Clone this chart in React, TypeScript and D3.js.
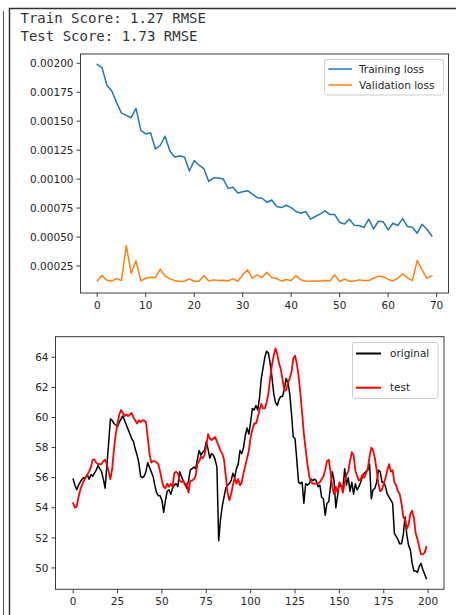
import React from "react";
import * as d3 from "d3";

// Loss history per training epoch
const epochs = d3.range(70);
const trainLoss = [
  0.00199, 0.00196, 0.00181, 0.00176, 0.00166, 0.00157, 0.00155, 0.00153, 0.00161, 0.00142,
  0.00139, 0.0014, 0.00126, 0.00129, 0.00137, 0.00124, 0.00119, 0.0012, 0.00119, 0.00107,
  0.00116, 0.00112, 0.00109, 0.00098, 0.00101, 0.00101, 0.001, 0.00092, 0.00093, 0.00088,
  0.00089, 0.0009, 0.00087, 0.00084, 0.000835, 0.0008, 0.00082, 0.000763, 0.000754, 0.000774,
  0.000754, 0.00072, 0.000705, 0.00072, 0.000654, 0.000677, 0.0007, 0.000726, 0.000694, 0.000694,
  0.000625, 0.000613, 0.000654, 0.000602, 0.000599, 0.000582, 0.000654, 0.00057, 0.000636, 0.000631,
  0.000562, 0.000619, 0.000599, 0.000659, 0.00059, 0.000585, 0.000533, 0.00061, 0.000567, 0.00051,
];
const valLoss = [
  0.000121, 0.000167, 0.000127, 0.000121, 0.000141, 0.000124, 0.000426, 0.000188, 0.000294, 0.000121,
  0.000144, 0.000153, 0.00015, 0.000222, 0.000162, 0.000139, 0.000124, 0.000116, 0.000118, 0.000139,
  0.000118, 0.000118, 0.000167, 0.000121, 0.00013, 0.000124, 0.000127, 0.000121, 0.000139, 0.000118,
  0.000173, 0.000216, 0.000144, 0.000173, 0.00015, 0.000196, 0.00015, 0.000141, 0.000121, 0.000133,
  0.000124, 0.000167, 0.00013, 0.000121, 0.000118, 0.000121, 0.000121, 0.000124, 0.000121, 0.000173,
  0.000116, 0.000136, 0.000118, 0.000121, 0.00013, 0.000124, 0.000124, 0.000144, 0.000162, 0.000156,
  0.000136, 0.000121, 0.000144, 0.000182, 0.000147, 0.000124, 0.000297, 0.000216, 0.000144, 0.000164,
];
const lossXTicks = [0, 10, 20, 30, 40, 50, 60, 70];
const lossYTicks = [0.00025, 0.0005, 0.00075, 0.001, 0.00125, 0.0015, 0.00175, 0.002];

// Price series: actual values and model predictions on the test window
const original = [
  55.9, 55.5, 55.2, 55.5, 55.7, 55.9, 56.0, 56.0, 56.2, 55.9,
  56.2, 56.1, 56.3, 56.5, 56.8, 56.6, 56.4, 55.9, 55.3, 56.8,
  58.3, 59.9, 59.8, 59.6, 59.5, 59.4, 59.7, 59.9, 60.1, 59.8,
  59.5, 59.2, 58.9, 58.6, 58.4, 57.9, 57.5, 57.0, 56.1, 56.0,
  56.1, 56.4, 57.0, 56.7, 56.4, 56.1, 55.5, 55.0, 54.8, 54.8,
  54.5, 53.7, 54.5, 55.1, 55.2, 54.9, 55.3, 55.5, 55.6, 55.4,
  56.4, 56.1, 55.8, 55.6, 55.3, 55.8, 56.5, 56.6, 56.7, 56.6,
  57.2, 57.8, 57.5, 57.7, 57.8, 58.4, 57.9, 57.3, 57.6, 57.5,
  57.2, 56.7, 51.8, 53.2, 54.1, 54.7, 55.3, 55.5, 55.6, 55.8,
  56.3, 56.0, 56.6, 56.9, 57.8, 57.6, 58.0, 58.8, 59.3, 58.9,
  59.7, 60.6, 60.5, 60.8, 60.5, 61.3, 62.6, 63.3, 64.0, 64.4,
  64.3, 63.6, 62.7, 61.6, 61.0, 60.8, 61.2, 61.4, 61.4, 61.9,
  62.6, 62.3, 61.6, 60.3, 58.7, 58.6, 57.2, 55.7, 55.6, 55.7,
  54.3, 55.6, 55.5, 55.6, 55.9, 55.8, 55.9, 55.8, 55.4, 55.5,
  54.7, 54.6, 53.5, 54.3, 54.4, 55.4, 56.4, 55.8, 54.0, 54.8,
  55.6, 55.4, 55.3, 56.6, 55.5, 56.0, 55.1, 55.7, 54.9, 55.6,
  55.2, 55.4, 55.7, 56.1, 56.3, 56.4, 56.5, 56.9, 54.6, 55.2,
  55.3, 55.7, 56.5, 56.4, 55.7, 55.7, 55.4, 54.9, 54.7, 54.5,
  54.3, 52.3, 52.1, 51.9, 51.6, 51.6, 52.2, 53.4, 52.2, 51.5,
  51.2, 50.3, 49.8, 49.8, 49.7, 50.1, 50.3, 49.9, 49.6, 49.3,
];
const test = [
  54.3, 54.0, 54.1, 54.7, 55.2, 55.5, 55.8, 56.0, 56.2, 56.4,
  56.7, 57.2, 57.2, 57.0, 56.9, 56.9, 56.9, 57.1, 57.2, 56.9,
  56.4, 55.9, 56.6, 57.9, 58.9, 59.6, 60.2, 60.5, 60.3, 60.1,
  60.2, 60.1, 60.2, 60.3, 60.0, 59.8, 59.6, 59.8, 59.7, 59.8,
  59.8, 59.7, 58.7, 57.6, 57.0, 57.1, 57.1, 57.0, 56.9, 56.4,
  55.8, 55.4, 55.3, 55.6, 55.4, 55.6, 55.4, 56.3, 56.4, 56.3,
  55.8, 55.7, 55.8, 55.5, 55.6, 55.0, 55.8, 55.8, 55.9, 56.1,
  56.9, 57.1, 57.4, 57.3, 57.5, 58.1, 58.9, 58.6, 58.5, 58.6,
  58.7, 58.4, 58.1, 57.8, 57.6, 57.2, 56.1, 55.0, 54.5, 54.9,
  55.5, 56.0, 55.6, 55.9, 55.5, 55.7, 56.3, 56.8, 57.3, 57.8,
  58.7, 59.2, 59.6, 59.6, 60.0, 60.5, 60.9, 60.6, 60.6, 61.0,
  61.6, 62.6, 63.5, 64.1, 64.6, 64.2, 63.6, 63.2, 62.5, 61.8,
  61.8, 62.3, 62.6, 63.0, 63.9, 64.1, 63.6, 62.8, 61.6, 60.3,
  58.9, 57.9, 56.9, 56.1, 55.7, 55.6, 55.6, 55.6, 55.6, 55.7,
  55.9, 56.1, 56.5, 57.1, 57.2, 56.4, 55.4, 54.9, 55.4, 55.0,
  55.7, 55.5, 55.0, 55.7, 56.2, 56.4, 57.1, 57.7, 57.5, 56.5,
  56.1, 55.8, 55.9, 56.2, 56.0, 56.3, 56.6, 57.4, 58.0, 57.8,
  57.3, 56.5, 55.6, 55.1, 55.2, 55.6, 56.0, 56.5, 56.9, 56.4,
  56.5, 55.7, 55.5, 55.1, 54.9, 54.3, 53.4, 53.2, 52.6, 52.9,
  53.6, 53.8, 53.3, 52.3, 51.9, 51.4, 50.9, 50.9, 51.0, 51.4,
];
const priceXTicks = [0, 25, 50, 75, 100, 125, 150, 175, 200];
const priceYTicks = [50, 52, 54, 56, 58, 60, 62, 64];

const scoreLines = ["Train Score: 1.27 RMSE", "Test Score: 1.73 RMSE"];

const FONT = "'DejaVu Sans', sans-serif";
const TICK_COLOR = "#262626";
const SPINE = "#3a3a3a";

type Series = { name: string; values: number[]; color: string; width: number };

function Panel(props: {
  box: { left: number; right: number; top: number; bottom: number };
  xDomain: [number, number];
  yDomain: [number, number];
  xTicks: number[];
  yTicks: number[];
  yFormat: (v: number) => string;
  series: Series[];
  legend: { x: number; y: number; w: number; h: number; rows: number[]; lineX: [number, number]; textX: number; lineWidth: number };
}) {
  const { box, series, legend } = props;
  const x = d3.scaleLinear().domain(props.xDomain).range([box.left, box.right]);
  const y = d3.scaleLinear().domain(props.yDomain).range([box.bottom, box.top]);
  const clipId = `clip-${Math.round(box.top)}`;
  return (
    <g>
      <defs>
        <clipPath id={clipId}>
          <rect x={box.left} y={box.top} width={box.right - box.left} height={box.bottom - box.top} />
        </clipPath>
      </defs>
      <g clipPath={`url(#${clipId})`}>
        {series.map((s) => {
          const line = d3
            .line<number>()
            .x((_, i) => x(i))
            .y((d) => y(d));
          return (
            <path
              key={s.name}
              d={line(s.values) ?? ""}
              fill="none"
              stroke={s.color}
              strokeWidth={s.width}
              strokeLinejoin="round"
              strokeLinecap="square"
            />
          );
        })}
      </g>
      <rect
        x={box.left}
        y={box.top}
        width={box.right - box.left}
        height={box.bottom - box.top}
        fill="none"
        stroke={SPINE}
        strokeWidth={1}
      />
      {props.xTicks.map((t) => (
        <g key={`x${t}`} transform={`translate(${x(t)},${box.bottom})`}>
          <line y1={0} y2={4} stroke={SPINE} strokeWidth={1} />
          <text y={8} dy="0.76em" textAnchor="middle" fontSize={10.5} fontFamily={FONT} fill={TICK_COLOR}>
            {t}
          </text>
        </g>
      ))}
      {props.yTicks.map((t) => (
        <g key={`y${t}`} transform={`translate(${box.left},${y(t)})`}>
          <line x1={0} x2={-4} stroke={SPINE} strokeWidth={1} />
          <text x={-7} dy="0.35em" textAnchor="end" fontSize={10.5} fontFamily={FONT} fill={TICK_COLOR}>
            {props.yFormat(t)}
          </text>
        </g>
      ))}
      <rect
        x={legend.x}
        y={legend.y}
        width={legend.w}
        height={legend.h}
        rx={2.5}
        fill="#ffffff"
        fillOpacity={0.85}
        stroke="#cccccc"
        strokeWidth={1}
      />
      {series.map((s, i) => (
        <g key={`lg${s.name}`}>
          <line
            x1={legend.lineX[0]}
            x2={legend.lineX[1]}
            y1={legend.rows[i]}
            y2={legend.rows[i]}
            stroke={s.color}
            strokeWidth={legend.lineWidth}
          />
          <text
            x={legend.textX}
            y={legend.rows[i]}
            dy="0.35em"
            fontSize={10.5}
            fontFamily={FONT}
            fill={TICK_COLOR}
          >
            {s.name}
          </text>
        </g>
      ))}
    </g>
  );
}

export default function App() {
  const lossFmt = d3.format(".5f");
  return (
    <svg
      width={456}
      height={615}
      viewBox="0 0 456 615"
      style={{ position: "absolute", left: 0, top: 0, background: "#ffffff" }}
    >
      {/* notebook cell frame */}
      <line x1={3.5} x2={3.5} y1={11} y2={615} stroke="#555" strokeWidth={1} />
      <path d="M9.5,615 V8.5 H456" fill="none" stroke="#333" strokeWidth={1.5} />

      {scoreLines.map((s, i) => (
        <text
          key={s}
          x={20.5}
          y={23 + i * 17.5}
          fontSize={14}
          fontFamily="'DejaVu Sans Mono', monospace"
          fill="#333"
          style={{ whiteSpace: "pre" }}
        >
          {s}
        </text>
      ))}

      <Panel
        box={{ left: 80.5, right: 448.5, top: 54, bottom: 293 }}
        xDomain={[-3.45, 72.45]}
        yDomain={[0.0000167, 0.00208]}
        xTicks={lossXTicks}
        yTicks={lossYTicks}
        yFormat={lossFmt}
        series={[
          { name: "Training loss", values: trainLoss.slice(0, epochs.length), color: "#1f77b4", width: 1.5 },
          { name: "Validation loss", values: valLoss.slice(0, epochs.length), color: "#ff7f0e", width: 1.5 },
        ]}
        legend={{ x: 324.5, y: 59.5, w: 119, h: 35.5, rows: [69, 85], lineX: [328.5, 352], textX: 359, lineWidth: 1.5 }}
      />

      <Panel
        box={{ left: 55.5, right: 444, top: 336.7, bottom: 589.3 }}
        xDomain={[-9.95, 208.95]}
        yDomain={[48.58, 65.37]}
        xTicks={priceXTicks}
        yTicks={priceYTicks}
        yFormat={(v) => String(v)}
        series={[
          { name: "original", values: original, color: "#000000", width: 1.5 },
          { name: "test", values: test, color: "#ff0000", width: 1.8 },
        ]}
        legend={{ x: 352.5, y: 342.5, w: 85.5, h: 56, rows: [353.5, 387.7], lineX: [356, 381], textX: 390, lineWidth: 2 }}
      />
    </svg>
  );
}
